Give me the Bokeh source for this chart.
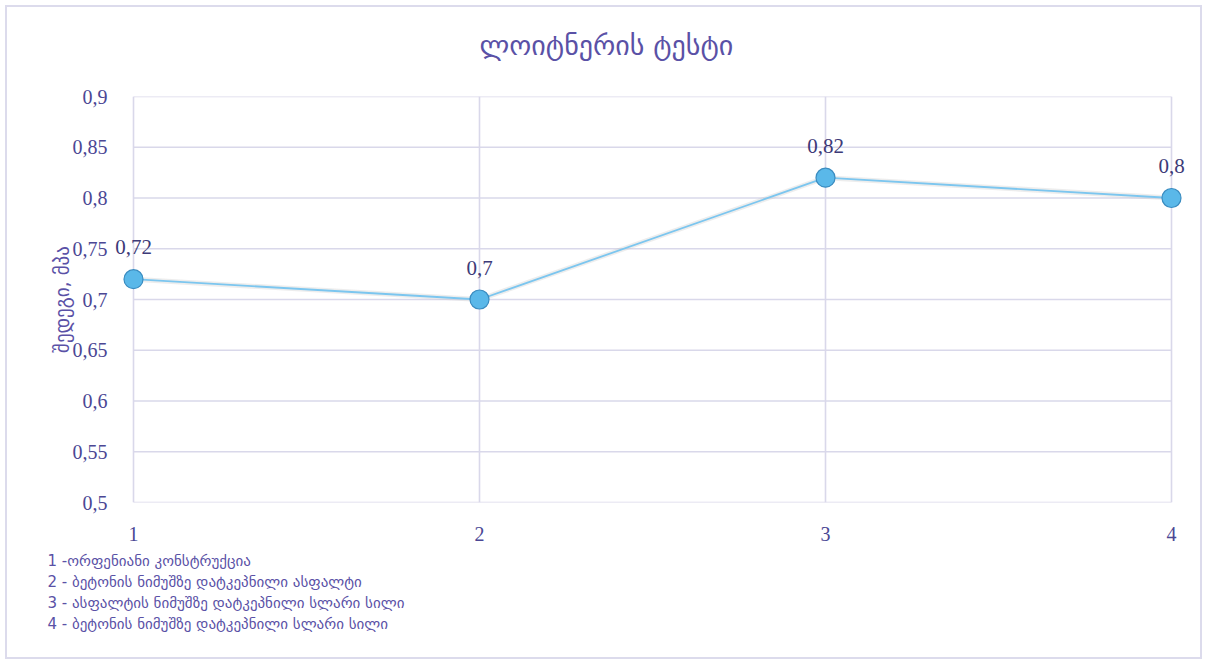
from bokeh.plotting import figure
from bokeh.models import ColumnDataSource, FixedTicker, LabelSet, Range1d, Title
from bokeh.embed import file_html
from bokeh.resources import INLINE

# ---- data ----
x_vals = [1, 2, 3, 4]
y_vals = [0.72, 0.70, 0.82, 0.80]
point_labels = ["0,72", "0,7", "0,82", "0,8"]
x_ticks = [1, 2, 3, 4]
x_tick_labels = ["1", "2", "3", "4"]
y_ticks = [0.5, 0.55, 0.6, 0.65, 0.7, 0.75, 0.8, 0.85, 0.9]
y_tick_labels = ["0,5", "0,55", "0,6", "0,65", "0,7", "0,75", "0,8", "0,85", "0,9"]
title_text = "ლოიტნერის ტესტი"
y_title = "შედეგი, მპა"
notes = [
    "1 -ორფენიანი კონსტრუქცია",
    "2 - ბეტონის ნიმუშზე დატკეპნილი ასფალტი",
    "3 - ასფალტის ნიმუშზე დატკეპნილი სლარი სილი",
    "4 - ბეტონის ნიმუშზე დატკეპნილი სლარი სილი",
]

GRID = "#d9d8ea"
TXT = "#4b4794"
TITLE_C = "#5a51a6"
NUM_FONT = "Liberation Serif"
GEO_FONT = "DejaVu Sans"

W, H = 1197, 654
ML, MR, MT, MB = 102, 3, 89, 159
PAD_L, PAD_R = 24, 30           # extra frame space (px) beyond the first/last category
PX_PER_UNIT = (W - ML - MR - PAD_L - PAD_R) / (x_vals[-1] - x_vals[0])
xr = Range1d(x_ticks[0] - PAD_L / PX_PER_UNIT, x_ticks[-1] + PAD_R / PX_PER_UNIT)

p = figure(width=W, height=H, output_backend="svg", toolbar_location=None,
           x_range=xr, y_range=Range1d(y_ticks[0], y_ticks[-1]),
           min_border_left=ML, min_border_right=MR, min_border_top=MT, min_border_bottom=MB)
p.styles = {"border": "2px solid #dcdbec", "margin": "5px 0 0 5px"}
p.outline_line_color = None
p.background_fill_color = "white"
p.border_fill_color = "white"
p.xgrid.visible = False
p.ygrid.visible = False

for ax in (p.xaxis, p.yaxis):
    ax.axis_line_color = None
    ax.major_tick_line_color = None
    ax.minor_tick_line_color = None
    ax.major_label_text_color = TXT
    ax.major_label_text_font = NUM_FONT
    ax.major_label_text_font_size = "20px"

p.xaxis.ticker = FixedTicker(ticks=x_ticks)
p.xaxis.major_label_overrides = {t: l for t, l in zip(x_ticks, x_tick_labels)}
p.xaxis.major_label_standoff = 18
p.yaxis.ticker = FixedTicker(ticks=y_ticks)
p.yaxis.major_label_overrides = {t: l for t, l in zip(y_ticks, y_tick_labels)}
p.yaxis.major_label_standoff = -PAD_L + 20
p.yaxis.axis_label = y_title
p.yaxis.axis_label_text_font = GEO_FONT
p.yaxis.axis_label_text_font_style = "normal"
p.yaxis.axis_label_text_font_size = "19px"
p.yaxis.axis_label_text_color = TITLE_C
p.yaxis.axis_label_standoff = -3

# grid lines limited to the category span
p.segment(x0=[x_ticks[0]] * len(y_ticks), x1=[x_ticks[-1]] * len(y_ticks), y0=y_ticks, y1=y_ticks,
          line_color=GRID, line_width=1.6)
p.segment(x0=x_ticks, x1=x_ticks, y0=[y_ticks[0]] * len(x_ticks), y1=[y_ticks[-1]] * len(x_ticks),
          line_color=GRID, line_width=1.6)

src = ColumnDataSource(dict(x=x_vals, y=y_vals, lab=point_labels))
p.line("x", "y", source=src, line_color="#c4c4c4", line_width=5, line_alpha=0.3)
p.line("x", "y", source=src, line_color="#7cc6ef", line_width=1.8)
p.scatter("x", "y", source=src, size=19, fill_color="#5ab8e9", line_color="#3a8cc0", line_width=1.2)

p.add_layout(LabelSet(x="x", y="y", text="lab", source=src, y_offset=25,
                      text_align="center", text_baseline="bottom",
                      text_font=NUM_FONT, text_font_size="21px", text_color="#3d3a78"))

# spacer between frame and chart title, then the title itself
p.add_layout(Title(text=" ", text_font_size="10px", standoff=17), "above")
p.add_layout(Title(text=title_text, align="left", offset=370, text_font=GEO_FONT,
                   text_font_size="28px", text_font_style="normal", text_color=TITLE_C,
                   standoff=10), "above")

# small spacer under the x axis, then the explanatory notes
p.add_layout(Title(text=" ", text_font_size="1px", standoff=3), "below")
for t in notes:
    p.add_layout(Title(text=t, align="left", offset=-62, text_font=GEO_FONT,
                       text_font_size="15px", text_font_style="normal", text_color=TITLE_C,
                       standoff=1), "below")

open("out.html", "w").write(file_html(p, INLINE))
